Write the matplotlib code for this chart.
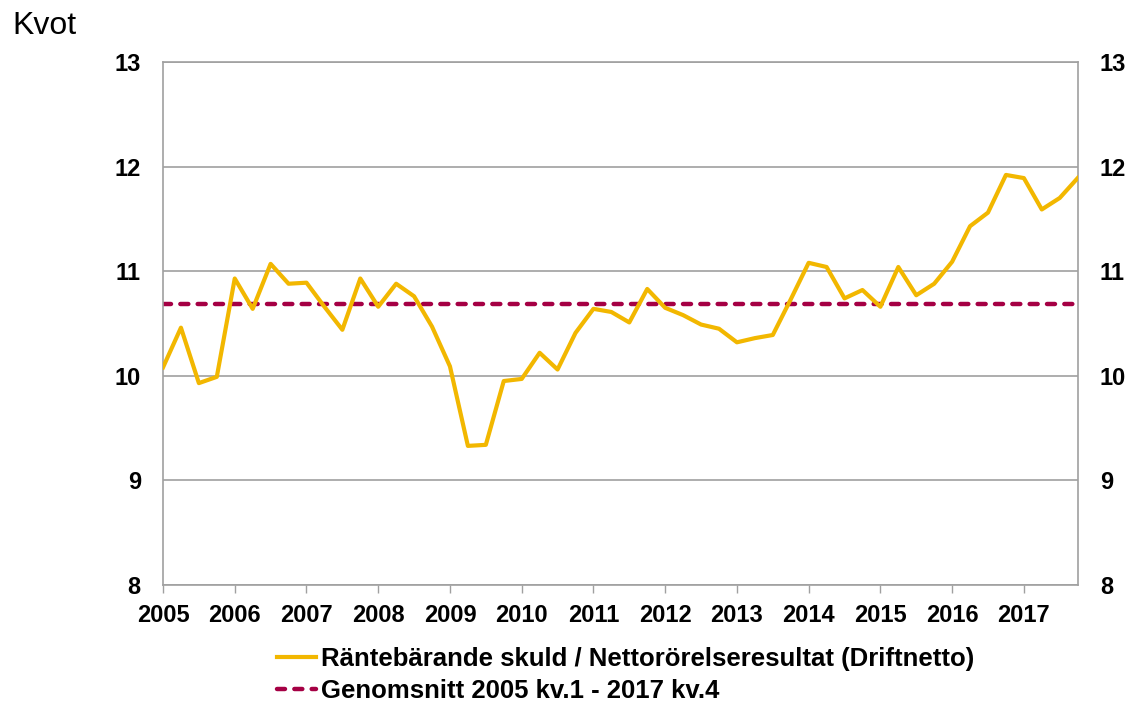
import matplotlib
matplotlib.use("Agg")
import matplotlib.pyplot as plt
import numpy as np

plt.rcParams["font.family"] = ["Liberation Sans", "DejaVu Sans"]

# quarterly values 2005 kv.1 - 2017 kv.4
ratio = [10.08, 10.46, 9.93, 9.99,
         10.93, 10.64, 11.07, 10.88,
         10.89, 10.66, 10.44, 10.93,
         10.66, 10.88, 10.76, 10.47,
         10.09, 9.33, 9.34, 9.95,
         9.97, 10.22, 10.06, 10.41,
         10.64, 10.61, 10.51, 10.83,
         10.65, 10.58, 10.49, 10.45,
         10.32, 10.36, 10.39, 10.73,
         11.08, 11.04, 10.74, 10.82,
         10.66, 11.04, 10.77, 10.88,
         11.09, 11.43, 11.56, 11.92,
         11.89, 11.59, 11.70, 11.89]
average = 10.69
years = list(range(2005, 2018))
yticks = [8, 9, 10, 11, 12, 13]

label_ratio = "Räntebärande skuld / Nettorörelseresultat (Driftnetto)"
label_avg = "Genomsnitt 2005 kv.1 - 2017 kv.4"

x = np.arange(len(ratio))

fig = plt.figure(figsize=(11.32, 7.04), dpi=100)
ax = fig.add_axes([0.144, 0.169, 0.808, 0.743])

ax.plot(x, ratio, color="#F2B700", lw=3.0, label=label_ratio, zorder=3)
ax.plot(x, [average] * len(x), color="#A50044", lw=3.2, ls=(0, (1.8, 2.1)),
        dash_capstyle="round", label=label_avg, zorder=2)

ax.set_xlim(0, len(x) - 1)
ax.set_ylim(8, 13)
ax.set_yticks(yticks)
ax.set_xticks([4 * i for i in range(len(years))])
ax.set_xticklabels([str(y) for y in years], fontsize=17, fontweight="bold")
ax.set_yticklabels([str(v) for v in yticks], fontsize=17, fontweight="bold")
ax.tick_params(axis="x", length=6, color="#A0A0A0", width=1, pad=8)
ax.tick_params(axis="y", length=0, pad=16, labelright=True)
ax.grid(axis="y", color="#A0A0A0", lw=1.2)
ax.set_axisbelow(True)
for s in ["left", "right", "bottom", "top"]:
    ax.spines[s].set_color("#A0A0A0")
    ax.spines[s].set_linewidth(1.2)

fig.text(0.011, 0.963, "Kvot", fontsize=23, va="center", ha="left")

leg = fig.legend(loc="upper left", bbox_to_anchor=(0.245, 0.081), frameon=False,
                 fontsize=18.5, handlelength=1.5, handletextpad=0.2, labelspacing=0.32,
                 borderaxespad=0, borderpad=0)
for t in leg.get_texts():
    t.set_fontweight("bold")

fig.savefig("out.png", dpi=100)
